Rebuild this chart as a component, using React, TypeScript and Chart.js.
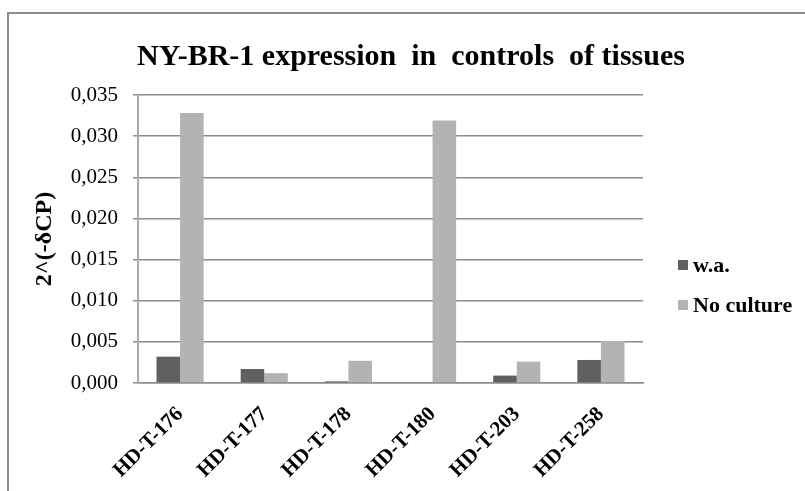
import { useEffect, useRef } from "react";
import { Chart, registerables } from "chart.js";

Chart.register(...registerables);

// Tissue control samples on the category axis
const samples = ["HD-T-176", "HD-T-177", "HD-T-178", "HD-T-180", "HD-T-203", "HD-T-258"];

// Relative expression values, 2^(-δCP)
const waValues = [0.0032, 0.0017, 0.0002, 0, 0.0009, 0.0028];
const noCultureValues = [0.0328, 0.0012, 0.0027, 0.0319, 0.0026, 0.0051];

const seriesNames = ["w.a.", "No culture"];
const seriesColors = ["#606060", "#b3b3b3"];

const yTickValues = [0, 0.005, 0.01, 0.015, 0.02, 0.025, 0.03, 0.035];

const chartTitle = "NY-BR-1 expression  in  controls  of tissues";
const yAxisTitle = "2^(-δCP)";

const serif = "'Liberation Serif', 'Times New Roman', serif";

const formatTick = (v: number) => v.toFixed(3).replace(".", ",");

export default function App() {
  const canvasRef = useRef<HTMLCanvasElement>(null);

  useEffect(() => {
    const canvas = canvasRef.current;
    if (!canvas) return;

    // Frame, heading and side legend painted around the plot
    const decorations = {
      id: "decorations",
      beforeDraw(chart: any) {
        const ctx = chart.ctx;
        ctx.save();
        ctx.fillStyle = "#ffffff";
        ctx.fillRect(0, 0, chart.width, chart.height);
        ctx.strokeStyle = "#8c8c8c";
        ctx.lineWidth = 2;
        ctx.beginPath();
        ctx.moveTo(8, chart.height);
        ctx.lineTo(8, 13);
        ctx.lineTo(chart.width, 13);
        ctx.stroke();
        ctx.restore();
      },
      afterDraw(chart: any) {
        const ctx = chart.ctx;
        ctx.save();
        ctx.fillStyle = "#000000";
        ctx.font = `bold 30px ${serif}`;
        ctx.textAlign = "center";
        ctx.textBaseline = "middle";
        ctx.fillText(chartTitle, 411, 57);

        ctx.font = `bold 22px ${serif}`;
        ctx.textAlign = "left";
        chart.data.datasets.forEach((ds: any, i: number) => {
          const y = 265 + i * 40;
          ctx.fillStyle = ds.backgroundColor;
          ctx.fillRect(678, y - 5, 10, 10);
          ctx.fillStyle = "#000000";
          ctx.fillText(ds.label, 693, y + 1);
        });
        ctx.restore();
      },
    };

    const chart = new Chart(canvas, {
      type: "bar",
      data: {
        labels: samples,
        datasets: [
          {
            label: seriesNames[0],
            data: waValues,
            backgroundColor: seriesColors[0],
            borderWidth: 0,
            barPercentage: 1,
            categoryPercentage: 0.56,
          },
          {
            label: seriesNames[1],
            data: noCultureValues,
            backgroundColor: seriesColors[1],
            borderWidth: 0,
            barPercentage: 1,
            categoryPercentage: 0.56,
          },
        ],
      },
      options: {
        responsive: false,
        animation: false,
        layout: { padding: { left: 0, top: 95, right: 162, bottom: 0 } },
        plugins: {
          legend: { display: false },
          title: { display: false },
          tooltip: { enabled: false },
        },
        scales: {
          x: {
            grid: { display: false, drawTicks: false },
            border: { display: true, color: "#8c8c8c", width: 1.5 },
            ticks: {
              minRotation: 45,
              maxRotation: 45,
              padding: 19,
              color: "#000000",
              font: { family: serif, size: 21, weight: "bold" },
            },
            afterFit: (scale: any) => {
              scale.height = 108;
            },
          },
          y: {
            min: 0,
            max: 0.035,
            afterBuildTicks: (scale: any) => {
              scale.ticks = yTickValues.map((value) => ({ value }));
            },
            ticks: {
              padding: 15,
              color: "#000000",
              font: { family: serif, size: 21 },
              callback: (value: any) => formatTick(Number(value)),
            },
            grid: { color: "#8c8c8c", lineWidth: 1.5, tickLength: 5, tickColor: "#8c8c8c" },
            border: { color: "#a8a8a8", width: 2 },
            title: {
              display: true,
              text: yAxisTitle,
              color: "#000000",
              font: { family: serif, size: 24, weight: "bold" },
              padding: { top: 30, bottom: 0 },
            },
            afterFit: (scale: any) => {
              scale.width = 138;
            },
          },
        },
      },
      plugins: [decorations],
    });

    return () => chart.destroy();
  }, []);

  return (
    <div style={{ position: "fixed", left: 0, top: 0, width: 805, height: 491, background: "#ffffff" }}>
      <canvas ref={canvasRef} width={805} height={491} style={{ display: "block" }} />
    </div>
  );
}
